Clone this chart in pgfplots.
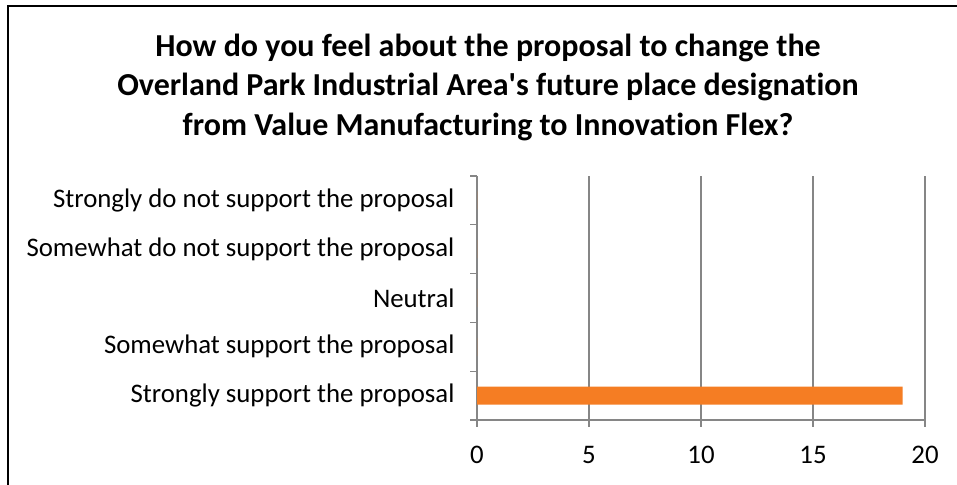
\documentclass[border=0pt]{standalone}
\usepackage{fontspec}
\setmainfont{Carlito}[Ligatures={TeXOff,NoCommon}]
\usepackage{pgfplots}
\pgfplotsset{compat=1.18}
\definecolor{barorange}{RGB}{245,125,35}
\definecolor{axisgray}{RGB}{134,134,134}
\begin{document}
\begin{tikzpicture}[x=1bp,y=1bp]
\useasboundingbox (0,0) rectangle (957,485);
\draw[line width=2.5bp,black] (8,0) -- (8,478.8) -- (957,478.8);
\node[font=\fontsize{32bp}{39.5bp}\selectfont\bfseries,align=center,anchor=center] at (488,398)
 {How do you feel about the proposal to change the\\Overland Park Industrial Area's future place designation\\from Value Manufacturing to Innovation Flex?};
\begin{axis}[
  at={(477bp,65bp)}, anchor=south west,
  width=448bp, height=244bp, scale only axis,
  xbar, bar width=18bp,
  xmin=0, xmax=20, ymin=-0.5, ymax=4.5,
  xtick={0,5,10,15,20},
  ytick={0,1,2,3,4},
  yticklabels={Strongly support the proposal,Somewhat support the proposal,Neutral,Somewhat do not support the proposal,Strongly do not support the proposal},
  minor ytick={-0.5,0.5,1.5,2.5,3.5,4.5},
  axis x line*=bottom, axis y line*=left,
  axis line style={axisgray,line width=1.3bp,-},
  xmajorgrids, major grid style={axisgray,line width=1.3bp},
  major x tick style={axisgray,line width=1.3bp},
  minor y tick style={axisgray,line width=1.3bp},
  major y tick style={draw=none},
  tick align=outside, major tick length=7bp, minor tick length=7bp,
  ticklabel style={font=\fontsize{26.8bp}{30bp}\selectfont, text=black},
  /pgf/number format/assume math mode=true,
  xticklabel style={yshift=-16bp},
  yticklabel style={xshift=-12bp},
  clip=false,
]
\addplot[fill=barorange, draw=none] coordinates {(19,0) (0,1) (0,2) (0,3) (0,4)};
\end{axis}
\end{tikzpicture}
\end{document}
